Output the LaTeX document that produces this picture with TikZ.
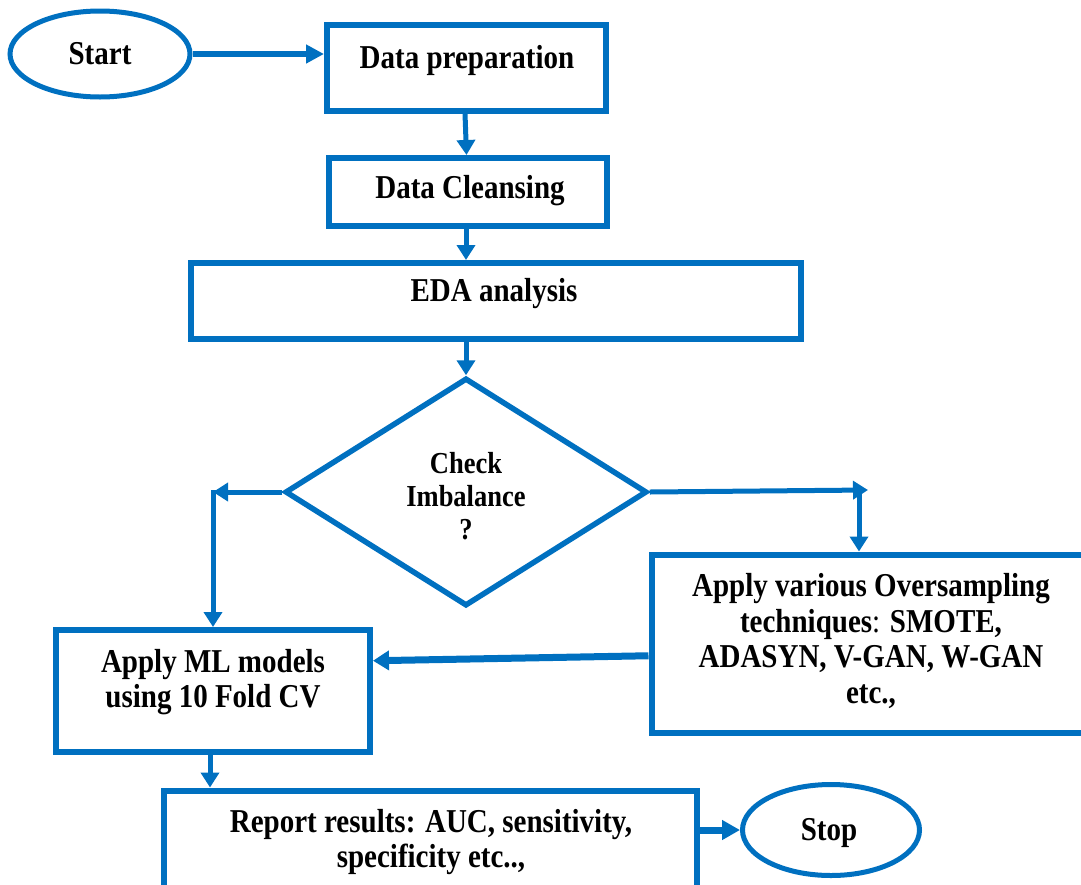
\documentclass[tikz,border=0pt]{standalone}
\usepackage{fontspec}
\setmainfont{Liberation Serif}
\usetikzlibrary{shapes.geometric,arrows.meta}
\definecolor{fblue}{HTML}{0070C0}
\newcommand{\tx}[2][1.15]{\scalebox{1}[#1]{\begin{tabular}{@{}c@{}}#2\end{tabular}}}
\begin{document}
\begin{tikzpicture}[x=1pt,y=-1pt,
  box/.style={draw=fblue, line width=6pt, rectangle, inner sep=0pt},
  oval/.style={draw=fblue, line width=5pt, ellipse, inner sep=0pt},
  lbl/.style={font=\fontsize{29}{31}\selectfont\bfseries, inner sep=0pt},
  arr/.style={draw=fblue, line width=5pt, -{Triangle[length=15pt,width=18pt]}},
  thickarr/.style={arr, line width=7pt, -{Triangle[length=16pt,width=19pt]}}]
\useasboundingbox (0,0) rectangle (1081,884);
\clip (0,0) rectangle (1081,884);
% shapes
\node[oval, minimum width=180pt, minimum height=86pt] (start) at (100,54) {};
\node[box, minimum width=279pt, minimum height=86pt] (dp) at (466.5,67.5) {};
\node[box, minimum width=278pt, minimum height=68pt] (dc) at (468,192) {};
\node[box, minimum width=610pt, minimum height=76pt] (eda) at (496,301) {};
\node[diamond, draw=fblue, line width=5.5pt, inner sep=0pt, minimum width=362pt, minimum height=228pt] (dia) at (466,492) {};
\node[box, minimum width=438.5pt, minimum height=178.5pt] (os) at (870.75,643.75) {};
\node[box, minimum width=314pt, minimum height=121.5pt] (ml) at (213,690.75) {};
\node[box, minimum width=533.5pt, minimum height=109pt] (rep) at (430.25,845) {};
\node[oval, minimum width=177pt, minimum height=91pt] (stop) at (831,830) {};
% labels
\node[lbl] (tstart) at (100,57) {\tx{Start}};
\node[lbl] (tdp) at (467,61) {\tx{Data preparation}};
\node[lbl] (tdc) at (470,191) {\tx{Data Cleansing}};
\node[lbl] (teda) at (494,294) {\tx{EDA analysis}};
\node[lbl, font=\fontsize{26.5}{28.5}\selectfont\bfseries] (tdia) at (466,500) {\tx{Check\\Imbalance\\?}};
\node[lbl, font=\fontsize{29}{31}\selectfont\bfseries] (tos) at (871,643) {\tx{Apply various Oversampling\\techniques{\mdseries :} SMOTE,\\ADASYN, V-GAN, W-GAN\\etc.,}};
\node[lbl, font=\fontsize{29}{30}\selectfont\bfseries] (tml) at (213,683) {\tx{Apply ML models\\using 10 Fold CV}};
\node[lbl, font=\fontsize{29}{31}\selectfont\bfseries] (trep) at (431,843) {\tx{Report results: AUC, sensitivity,\\specificity etc..,}};
\node[lbl] (tstop) at (829,833) {\tx{Stop}};
% connectors
\coordinate (L) at (213,492);
\coordinate (R) at (868,490);
\coordinate (Rv) at (859,488);
\draw[arr, line width=6pt, -{Triangle[length=18pt,width=18pt]}] (start.east) -- (start.east -| dp.west);
\draw[arr] ([xshift=-1.5pt]dp.south) -- ([xshift=-1.5pt]dc.north);
\draw[arr] ([xshift=-2pt]dc.south) -- ([xshift=-2pt]dc.south |- eda.north);
\draw[arr] (eda.south -| dia.north) -- (dia.north);
\draw[arr] (dia.west) -- (L);
\draw[arr] ([yshift=2pt]L) -- (L |- ml.north);
\draw[arr] (dia.east) -- (R);
\draw[arr] (Rv) -- (Rv |- os.north);
\draw[thickarr] ([yshift=-12pt]os.west) -- ([yshift=30pt]ml.east);
\draw[arr] ([xshift=-3pt]ml.south) -- ([xshift=-3pt]ml.south |- rep.north);
\draw[thickarr, -{Triangle[length=18pt,width=19pt]}] (stop.west -| rep.east) -- (stop.west);
\end{tikzpicture}
\end{document}
